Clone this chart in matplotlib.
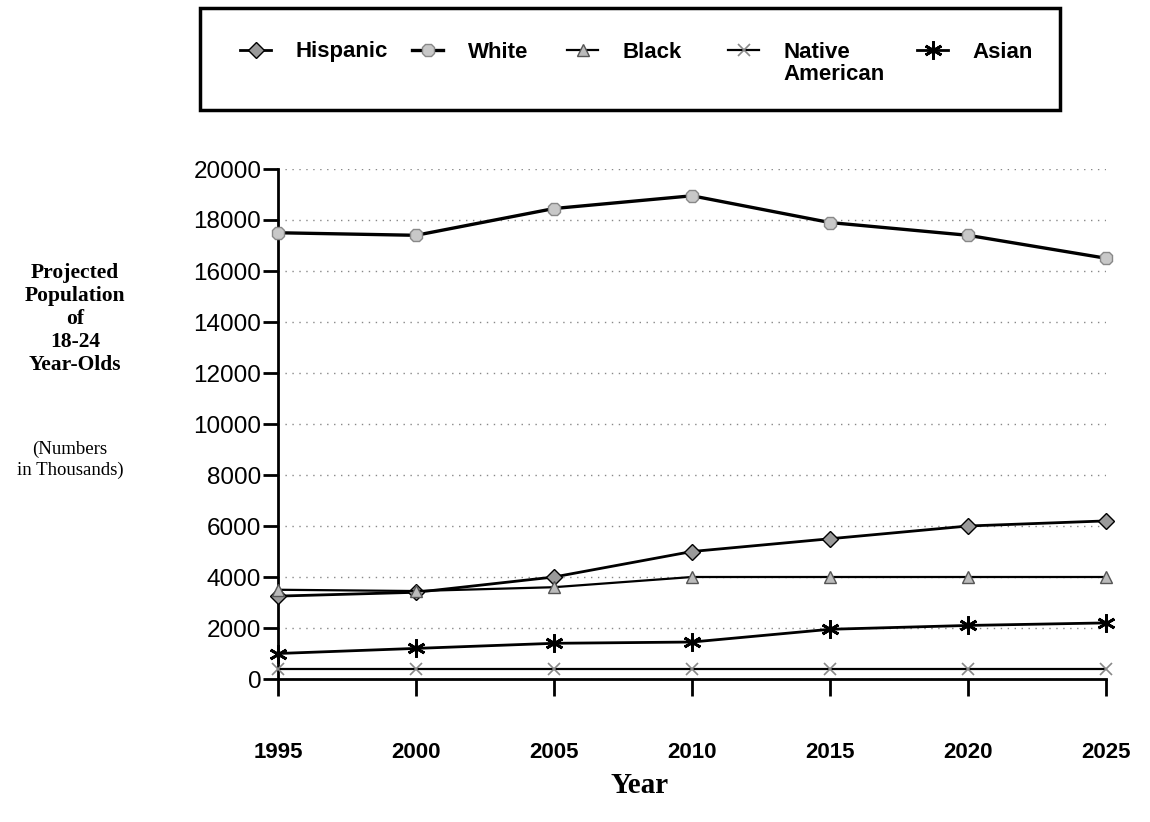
import matplotlib
matplotlib.use("Agg")
import matplotlib.pyplot as plt
from matplotlib.patches import Rectangle

years = [1995, 2000, 2005, 2010, 2015, 2020, 2025]
hispanic = [3250, 3400, 4000, 5000, 5500, 6000, 6200]
white = [17500, 17400, 18450, 18950, 17900, 17400, 16500]
black = [3500, 3450, 3600, 4000, 4000, 4000, 4000]
native_american = [400, 400, 400, 400, 400, 400, 400]
asian = [1000, 1200, 1400, 1450, 1950, 2100, 2200]
yticks = list(range(0, 20001, 2000))
series_labels = ["Hispanic", "White", "Black", "Native", "Asian"]
label_second_line = "American"

W, H = 1150, 822
fig = plt.figure(figsize=(11.5, 8.22), dpi=100)
ax = fig.add_axes([278/W, 1-679/H, (1106-278)/W, (679-169)/H])

styles = [
    dict(marker="D", ms=8, mfc="#9a9a9a", mec="black", mew=1.0, lw=2.0),
    dict(marker="8", ms=10, mfc="#c8c8c8", mec="#888888", mew=1.0, lw=2.4),
    dict(marker="^", ms=9, mfc="#bbbbbb", mec="#555555", mew=1.0, lw=1.6),
    dict(marker="x", ms=9, mfc="none", mec="#888888", mew=1.2, lw=1.6),
    dict(marker=(6, 2, 0), ms=13, mfc="black", mec="black", mew=2.0, lw=2.0),
]
data = [hispanic, white, black, native_american, asian]
lines = []
for vals, lab, st in zip(data, series_labels, styles):
    ln, = ax.plot(years, vals, color="black", label=lab, clip_on=False, zorder=3, **st)
    lines.append(ln)

ax.set_xlim(1995, 2025)
ax.set_ylim(0, 20000)
ax.set_yticks(yticks)
ax.set_xticks(years)
ax.yaxis.grid(True, linestyle=(0, (1, 4)), color="#888888", lw=1.0)
ax.set_axisbelow(True)
for s in ["top", "right"]:
    ax.spines[s].set_visible(False)
for s in ["left", "bottom"]:
    ax.spines[s].set_linewidth(2.0)
ax.tick_params(axis="y", direction="out", length=11, width=2, labelsize=17.5, pad=1)
ax.tick_params(axis="x", direction="out", length=12, width=2, labelsize=16, pad=33)
for t in ax.get_yticklabels():
    t.set_fontfamily("Liberation Sans")
for t in ax.get_xticklabels():
    t.set_fontfamily("Liberation Sans")
    t.set_fontweight("bold")

# Legend box
fig.patches.append(Rectangle((200/W, 1-110/H), 860/W, 102/H,
                             transform=fig.transFigure, fill=False, lw=2.5,
                             edgecolor="black"))
legend_x = [240, 412, 567, 728, 917]
legs = []
for ln, lab, lx in zip(lines, series_labels, legend_x):
    lg = fig.legend([ln], [lab], loc="center left", bbox_to_anchor=(lx/W, 1-52/H),
                    frameon=False, handlelength=1.4, handletextpad=1.1,
                    borderpad=0, borderaxespad=0,
                    prop=dict(family="Liberation Sans", weight="bold", size=16))
    legs.append(lg)

fig.canvas.draw()
nt = legs[3].get_texts()[0]
bb = nt.get_window_extent(fig.canvas.get_renderer())
fig.text(bb.x0 / fig.bbox.width, (bb.y0 - 1) / fig.bbox.height, label_second_line,
         ha="left", va="top", family="Liberation Sans", weight="bold", fontsize=16)

fig.text(75/W, 1-319/H, "Projected\nPopulation\nof\n18-24\nYear-Olds",
         ha="center", va="center", family="Liberation Serif", weight="bold",
         fontsize=15.5, linespacing=1.2)
fig.text(70/W, 1-460/H, "(Numbers\nin Thousands)", ha="center", va="center",
         family="Liberation Serif", fontsize=13.5, linespacing=1.25)
fig.text(640/W, 1-785/H, "Year", ha="center", va="center",
         family="Liberation Serif", weight="bold", fontsize=21)

fig.savefig("out.png", dpi=100)
